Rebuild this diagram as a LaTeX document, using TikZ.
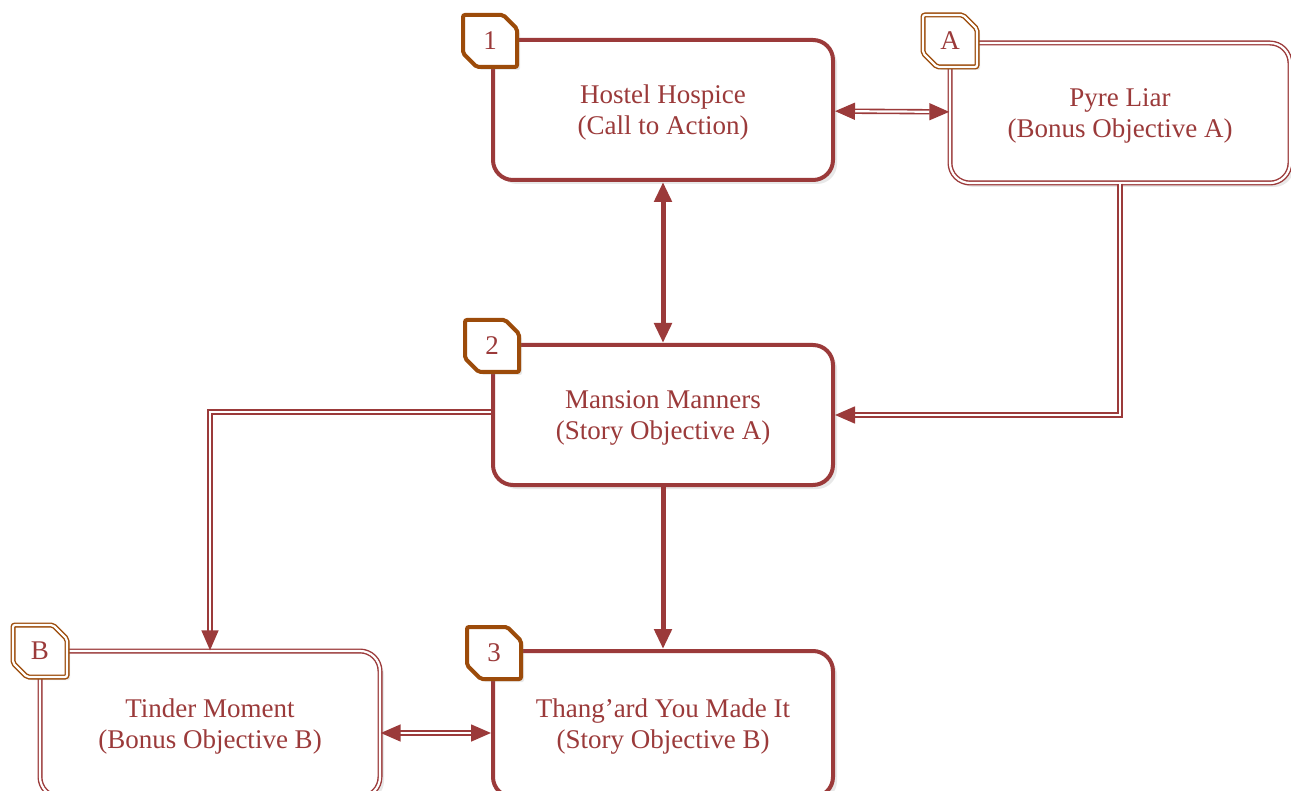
\documentclass[tikz,border=0pt]{standalone}
\usepackage{fontspec}
\setmainfont{Liberation Serif}
\usetikzlibrary{arrows.meta,shapes.misc,shadows}
\definecolor{boxred}{RGB}{155,58,58}
\definecolor{tagbrown}{RGB}{156,75,10}
\tikzset{
  mainbox/.style={rectangle, rounded corners=20pt, draw=boxred, line width=4pt,
    fill=white, minimum width=340pt, minimum height=140pt, align=center,
    text=boxred, font=\fontsize{27}{31}\selectfont, text depth=0pt,
    drop shadow={opacity=0.18, shadow xshift=4pt, shadow yshift=-4pt}},
  bonusbox/.style={mainbox, line width=1.4pt, double=white, double distance=2.2pt},
  tagbox/.style={chamfered rectangle, chamfered rectangle corners={north east, south west},
    chamfered rectangle xsep=7pt, chamfered rectangle ysep=7pt,
    draw=tagbrown, line width=4pt, rounded corners=2pt, fill=white,
    minimum width=54pt, minimum height=52pt, inner sep=0pt,
    text=boxred, font=\fontsize{27}{30}\selectfont,
    drop shadow={opacity=0.18, shadow xshift=3pt, shadow yshift=-3pt}},
  bonustag/.style={tagbox, line width=1.4pt, double=white, double distance=2.2pt},
  solidlink/.style={draw=boxred, line width=5pt},
  dlink/.style={draw=boxred, line width=1.6pt, double=white, double distance=2.2pt}
}
\begin{document}
\begin{tikzpicture}[x=1pt, y=-1pt, >={Triangle[length=20pt, width=17pt]}]
    \useasboundingbox (0, 0) rectangle (1291, 791);

    \node[mainbox] at (663, 110) (hostel) {Hostel Hospice\\(Call to Action)};
    \node[bonusbox] at (1120, 113) (pyre) {Pyre Liar\\(Bonus Objective A)};
    \node[mainbox] at (663, 415) (mansion) {Mansion Manners\\(Story Objective A)};
    \node[bonusbox, minimum height=146pt] at (210, 724) (tinder) {Tinder Moment\\(Bonus Objective B)};
    \node[mainbox, minimum height=146pt] at (663, 724) (thang) {Thang’ard You Made It\\(Story Objective B)};

    \draw[dlink, <->] (hostel) -- (pyre);
    \draw[solidlink, <->] (hostel) -- (mansion);
    \draw[dlink, ->] (pyre.south) |- (mansion.east);
    \draw[dlink, ->] ([yshift=3pt]mansion.west) -| (tinder.north);
    \draw[solidlink, ->] (mansion) -- (thang);
    \draw[dlink, <->] ([yshift=-9pt]tinder.east) -- ([yshift=-9pt]thang.west);

    \node[tagbox] at (490, 41) (t1) {1};
    \node[bonustag] at (950, 41) (tA) {A};
    \node[tagbox] at (492, 346) (t2) {2};
    \node[bonustag] at (40, 651) (tB) {B};
    \node[tagbox] at (494, 653) (t3) {3};
  \end{tikzpicture}
\end{document}
